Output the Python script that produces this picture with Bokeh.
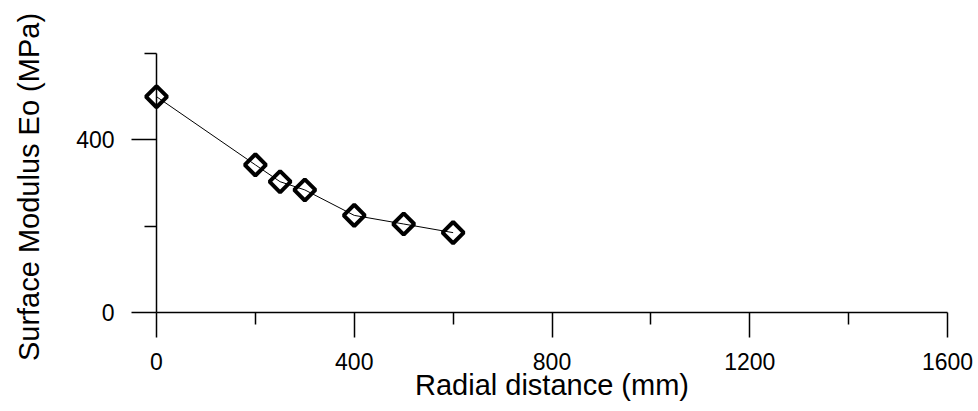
from bokeh.plotting import figure
from bokeh.models import Range1d, FixedTicker
from bokeh.embed import file_html
from bokeh.resources import INLINE

# Data
radial_mm = [0, 200, 250, 300, 400, 500, 600]
modulus_mpa = [500, 342, 303, 284, 225, 205, 185]

x_major = [0, 400, 800, 1200, 1600]
x_minor = [200, 600, 1000, 1400]
y_major = [0, 400]
y_minor = [200, 600]

FONT = "Liberation Sans"

p = figure(width=975, height=403, output_backend="svg", toolbar_location=None,
           x_range=Range1d(0, 1600), y_range=Range1d(0, 600),
           min_border_left=156, min_border_top=53, min_border_right=28, min_border_bottom=91)
p.outline_line_color = None
p.grid.visible = False
p.background_fill_color = "white"

line = p.line(radial_mm, modulus_mpa, line_color="black", line_width=1)
pts = p.scatter(radial_mm, modulus_mpa, marker="square", size=15, angle=0.785398,
                fill_color=None, line_color="black", line_width=4, level="overlay")

for ax in (p.xaxis[0], p.yaxis[0]):
    ax.axis_line_color = "black"
    ax.axis_line_width = 1.5
    ax.major_tick_line_color = "black"
    ax.major_tick_line_width = 1.5
    ax.minor_tick_line_color = "black"
    ax.minor_tick_line_width = 1.5
    ax.major_tick_in = 0
    ax.major_tick_out = 25
    ax.minor_tick_in = 0
    ax.minor_tick_out = 12
    ax.major_label_text_font = FONT
    ax.major_label_text_font_size = "23px"
    ax.major_label_text_color = "black"
    ax.axis_label_text_font = FONT
    ax.axis_label_text_font_size = "29px"
    ax.axis_label_text_font_style = "normal"
    ax.axis_label_text_color = "black"

p.xaxis[0].major_label_standoff = 15
p.yaxis[0].major_label_standoff = 17
p.xaxis[0].ticker = FixedTicker(ticks=x_major, minor_ticks=x_minor)
p.yaxis[0].ticker = FixedTicker(ticks=y_major, minor_ticks=y_minor)
p.xaxis[0].axis_label = "Radial distance (mm)"
p.yaxis[0].axis_label = "Surface Modulus Eo  (MPa)"
p.xaxis[0].axis_label_standoff = -4
p.yaxis[0].axis_label_standoff = 28

open("out.html", "w").write(file_html(p, INLINE))
